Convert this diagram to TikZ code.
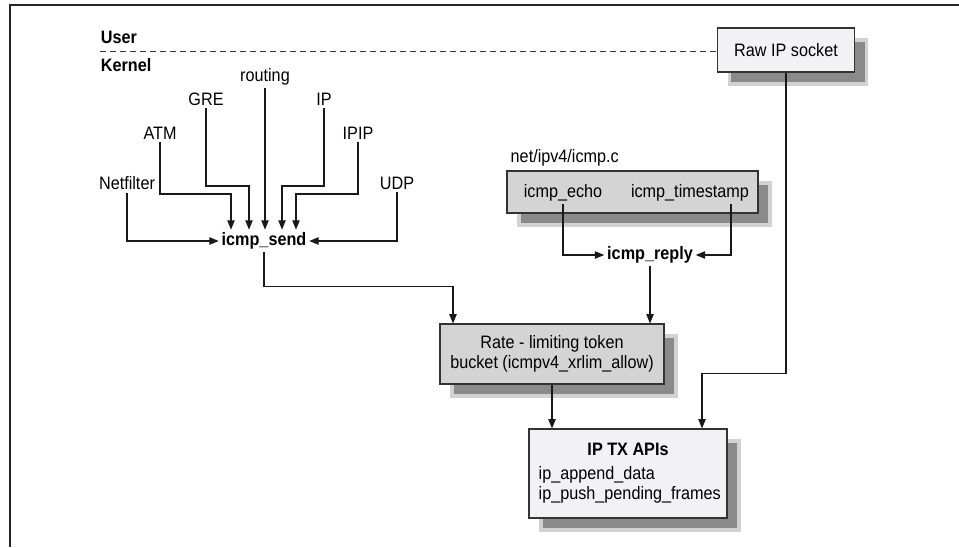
\documentclass[tikz,border=0pt]{standalone}
\usepackage{fontspec}
\setmainfont{Liberation Sans}[FakeStretch=0.9]
\usepackage{tikz}
\usetikzlibrary{arrows.meta, positioning, shadows}
\definecolor{boxlight}{RGB}{242,242,244}
\definecolor{boxgray}{RGB}{212,212,212}
\definecolor{shadowgray}{RGB}{138,138,138}
\tikzset{
    lbl/.style={font=\fontsize{13.5}{15}\selectfont, inner sep=2pt},
    hdr/.style={lbl, font=\fontsize{13.5}{15}\selectfont\bfseries},
    fnbox/.style={rectangle, draw=black!80, line width=0.8pt, align=center,
                  font=\fontsize{13.5}{15}\selectfont,
                  drop shadow={shadow xshift=9pt, shadow yshift=-9pt, fill=shadowgray,
                               draw=gray!35, line width=2.5pt, opacity=1}},
    lightbox/.style={fnbox, fill=boxlight},
    graybox/.style={fnbox, fill=boxgray},
    arrow/.style={-{Triangle[length=7pt,width=5.5pt]}, line width=0.8pt, draw=black!90},
}

\begin{document}
\begin{tikzpicture}[x=0.75pt, y=-0.75pt]
    \useasboundingbox (0,0) rectangle (959,547);
    \draw[line width=1.1pt, black!85] (10,547) |- (959,5);

    % user / kernel split
    \node[hdr, anchor=west] (user) at (98,37) {User};
    \node[hdr, anchor=west] (kernel) at (98,65) {Kernel};
    \node[lightbox, minimum width=102.75pt, minimum height=33pt] (raw) at (786,50) {Raw IP socket};
    \coordinate (split) at (100,51);
    \draw[dash pattern=on 4.5pt off 3pt, line width=0.6pt, black!80] (split) -- (split -| raw.west);

    % callers of icmp_send
    \node[hdr] (send) at (264,241) {icmp\_send};
    \node[lbl] (routing) at (265,77) {routing};
    \node[lbl] (gre) at (206,99) {GRE};
    \node[lbl] (ip) at (324,99) {IP};
    \node[lbl] (atm) at (160,133) {ATM};
    \node[lbl] (ipip) at (358,133) {IPIP};
    \node[lbl] (netfilter) at (127,183) {Netfilter};
    \node[lbl] (udp) at (397,183) {UDP};
    \coordinate (bendhi) at (0,186);
    \coordinate (bendlo) at (0,194);
    \coordinate (in1) at ([xshift=-24.75pt]send.north);
    \coordinate (in2) at ([xshift=-11.25pt]send.north);
    \coordinate (in4) at ([xshift=13.5pt]send.north);
    \coordinate (in5) at ([xshift=24pt]send.north);
    \draw[arrow] (atm.south) -- (atm.south |- bendlo) -| (in1);
    \draw[arrow] (gre.south) -- (gre.south |- bendhi) -| (in2);
    \draw[arrow] (routing.south) -- (routing.south |- send.north);
    \draw[arrow] (ip.south) -- (ip.south |- bendhi) -| (in4);
    \draw[arrow] (ipip.south) -- (ipip.south |- bendlo) -| (in5);
    \draw[arrow] (netfilter.south) |- (send.west);
    \draw[arrow] (udp.south) |- (send.east);

    % icmp.c handlers
    \node[graybox, minimum width=188.25pt, minimum height=31.5pt] (icmpbox) at (632.5,192) {};
    \node[lbl, anchor=south west, inner sep=3pt] (icmpfile) at (icmpbox.north west) {net/ipv4/icmp.c};
    \node[lbl] (echo) at (563,193) {icmp\_echo};
    \node[lbl] (tstamp) at (690,193) {icmp\_timestamp};
    \node[hdr] (reply) at (650,255) {icmp\_reply};
    \draw[arrow] (echo.south) |- (reply.west);
    \draw[arrow] ([xshift=30.75pt]tstamp.south) |- (reply.east);

    % rate limiter and tx
    \node[graybox, minimum width=168pt, minimum height=45pt] (rate) at (552,354)
        {Rate - limiting token\\bucket (icmpv4\_xrlim\_allow)};
    \draw[arrow] (send.south) -- ++(0,34) -| ([xshift=-74.25pt]rate.north);
    \draw[arrow] (reply.south) -- (reply.south |- rate.north);

    \node[lightbox, minimum width=148.5pt, minimum height=66.75pt] (iptx) at (628,473.5) {};
    \node[hdr] (iptxttl) at ([yshift=-15.75pt]iptx.north) {IP TX APIs};
    \node[lbl, align=left, anchor=west] (iptxfns) at ([xshift=5.5pt, yshift=-8.5pt]iptx.west)
        {ip\_append\_data\\ip\_push\_pending\_frames};
    \draw[arrow] (rate.south) -- (rate.south |- iptx.north);
    \draw[arrow] (raw.south) -- ++(0,301) -| ([xshift=55.5pt]iptx.north);
\end{tikzpicture}
\end{document}
